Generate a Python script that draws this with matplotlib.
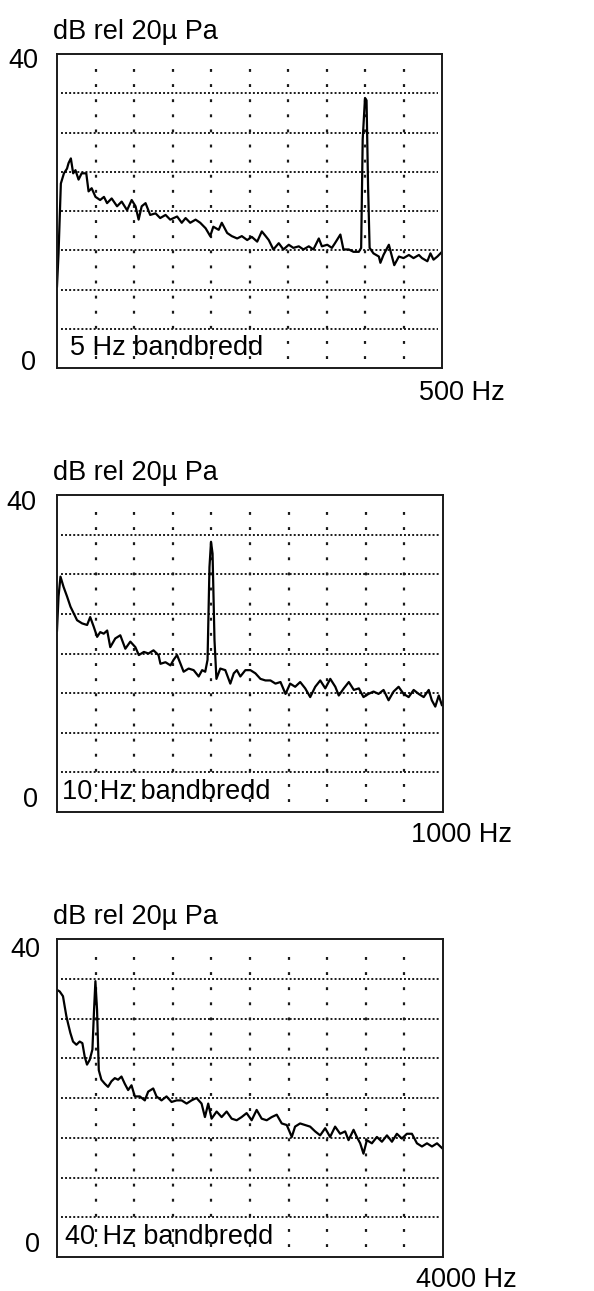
import numpy as np
import matplotlib
matplotlib.use("Agg")
import matplotlib.pyplot as plt

plt.rcParams['font.family'] = ['Liberation Sans', 'DejaVu Sans']

# ----------------------------------------------------------
# Spectrum data
# ----------------------------------------------------------
# 5 Hz bandwidth, 0-500 Hz
freq_5hz = [0, 2, 5, 9, 13, 15, 18, 21, 24, 28, 32, 38, 41, 45, 50, 56, 61, 65, 71, 78,
            84, 91, 97, 102, 106, 110, 115, 121, 128, 134, 141, 147, 156, 162, 167, 173,
            180, 186, 193, 199, 203, 210, 214, 221, 227, 234, 240, 247, 253, 260, 266,
            271, 275, 281, 288, 294, 301, 307, 314, 320, 327, 333, 340, 344, 351, 357,
            361, 368, 372, 379, 385, 392, 395, 397, 400, 402, 404, 406, 411, 418, 420,
            424, 431, 435, 438, 444, 450, 457, 463, 470, 474, 481, 485, 489, 494, 498, 500]
level_5hz = [10.4, 14.6, 23.5, 24.8, 25.4, 26.1, 26.7, 24.8, 25.2, 24.0, 24.8, 24.8, 22.5,
             22.9, 21.8, 21.4, 21.8, 21.0, 21.6, 20.6, 21.2, 20.1, 21.4, 20.6, 18.9, 20.6,
             21.0, 19.5, 19.7, 19.1, 19.5, 18.9, 19.3, 18.5, 19.1, 18.5, 18.9, 18.5, 17.8,
             16.8, 18.0, 17.6, 18.5, 17.2, 16.8, 16.5, 16.8, 16.3, 16.7, 16.1, 17.4, 16.8,
             16.3, 15.1, 15.9, 15.1, 15.7, 15.3, 15.5, 15.1, 15.5, 15.1, 16.5, 15.5, 15.7,
             15.3, 15.9, 17.0, 15.1, 15.1, 14.8, 14.8, 15.3, 29.1, 34.4, 34.1, 23.1, 15.3,
             14.6, 14.2, 13.4, 14.4, 15.7, 14.2, 13.1, 14.2, 14.0, 14.4, 14.0, 14.4, 14.0,
             13.6, 14.6, 13.8, 14.2, 14.6, 14.8]

# 10 Hz bandwidth, 0-1000 Hz
freq_10hz = [0, 4, 9, 17, 26, 35, 43, 52, 65, 78, 86, 95, 104, 112, 121, 130, 138, 151,
             164, 177, 190, 203, 212, 225, 237, 250, 263, 268, 281, 294, 302, 311, 320,
             328, 341, 354, 367, 376, 384, 390, 395, 399, 403, 408, 413, 423, 436, 449,
             458, 466, 475, 488, 501, 514, 527, 540, 553, 566, 579, 592, 604, 617, 630,
             643, 656, 669, 682, 695, 708, 721, 730, 743, 756, 769, 782, 794, 807, 820,
             833, 846, 859, 872, 885, 898, 911, 924, 937, 950, 963, 971, 980, 989, 997]
level_10hz = [22.9, 27.2, 29.7, 28.4, 27.2, 25.9, 25.1, 24.2, 23.8, 23.6, 24.6, 23.4, 22.1,
              22.7, 22.5, 22.9, 20.8, 21.9, 22.3, 20.6, 21.5, 20.8, 19.8, 20.2, 20.0, 20.4,
              19.8, 18.7, 18.9, 18.5, 19.2, 19.8, 18.7, 17.7, 18.1, 17.9, 17.1, 17.9, 17.7,
              19.2, 30.9, 34.1, 32.6, 21.7, 16.8, 18.1, 17.9, 16.2, 17.5, 17.9, 17.1, 17.9,
              17.9, 17.5, 16.8, 16.6, 16.6, 16.2, 16.4, 14.9, 16.2, 15.8, 16.4, 15.6, 14.5,
              15.8, 16.6, 15.6, 16.8, 15.8, 14.7, 15.6, 16.4, 15.4, 15.6, 14.5, 14.9, 15.2,
              14.9, 15.4, 14.1, 15.2, 15.8, 14.9, 14.5, 15.4, 14.9, 14.5, 15.4, 14.1, 13.3,
              14.7, 13.5]

# 40 Hz bandwidth, 0-4000 Hz
freq_40hz = [0, 28, 62, 80, 97, 114, 138, 166, 201, 235, 263, 287, 311, 339, 367, 384,
             398, 415, 433, 460, 495, 529, 564, 599, 633, 668, 702, 737, 772, 806, 858,
             910, 945, 997, 1031, 1083, 1135, 1187, 1239, 1291, 1343, 1394, 1446, 1498,
             1533, 1567, 1602, 1654, 1706, 1758, 1810, 1862, 1913, 1965, 2017, 2069, 2121,
             2173, 2225, 2277, 2329, 2381, 2433, 2467, 2519, 2571, 2623, 2675, 2727, 2779,
             2830, 2882, 2934, 2986, 3021, 3073, 3107, 3142, 3176, 3211, 3263, 3315, 3367,
             3419, 3471, 3522, 3574, 3626, 3678, 3730, 3782, 3834, 3886, 3938, 3990]
level_40hz = [33.6, 33.4, 32.8, 31.5, 30.3, 29.4, 28.2, 27.1, 26.7, 27.1, 26.9, 25.2, 24.2,
              24.8, 26.1, 31.1, 34.7, 31.1, 23.5, 22.3, 21.8, 21.4, 22.1, 22.5, 22.3, 22.7,
              21.8, 21.0, 21.6, 20.2, 20.2, 19.7, 20.8, 21.2, 20.2, 19.7, 20.2, 19.5, 19.7,
              19.7, 19.3, 19.7, 20.0, 19.3, 17.6, 19.3, 17.4, 18.3, 17.6, 18.3, 17.4, 17.2,
              17.6, 18.1, 17.2, 18.5, 17.4, 17.2, 17.6, 17.9, 16.8, 16.6, 15.1, 16.4, 16.8,
              16.6, 16.4, 15.8, 15.3, 16.2, 15.1, 16.4, 15.5, 15.8, 14.7, 16.0, 15.1, 14.3,
              13.0, 14.7, 14.3, 15.1, 14.5, 15.3, 14.5, 15.5, 14.9, 15.5, 15.5, 14.3, 13.9,
              14.3, 13.9, 14.3, 13.7]

freq_max = [500, 1000, 4000]
bandwidth_labels = ["5 Hz bandbredd", "10 Hz bandbredd", "40 Hz bandbredd"]
x_labels = ["500 Hz", "1000 Hz", "4000 Hz"]
y_label = "dB rel 20\u00b5 Pa"
y_max = 40

W, H = 594, 1291
fig = plt.figure(figsize=(W / 100, H / 100), dpi=100)


def px(x, y):
    # pixel position -> figure fraction
    return x / W, 1 - y / H


# axes boxes in pixels: left, top, right, bottom
boxes = [(57, 54, 442, 368), (57, 495, 443, 812), (57, 939, 443, 1257)]
# text anchors in pixels
ylab_pos = [(53, 32), (53, 473), (53, 917)]
top_pos = [(23, 61), (21, 503), (25, 950)]
zero_pos = [(28, 363), (30, 800), (32, 1245)]
xlab_pos = [(505, 393), (512, 835), (517, 1280)]
bw_pos = [(70, 348), (62, 792), (65, 1237)]

series = [(freq_5hz, level_5hz), (freq_10hz, level_10hz), (freq_40hz, level_40hz)]

fs = 19.5
for i in range(3):
    l, t, r, b = boxes[i]
    x0, y1 = px(l, t)
    x1, y0 = px(r, b)
    ax = fig.add_axes([x0, y0, x1 - x0, y1 - y0])
    fmax = freq_max[i]
    ax.set_xlim(0, fmax)
    ax.set_ylim(0, y_max)
    ax.set_xticks([])
    ax.set_yticks([])
    for s in ax.spines.values():
        s.set_linewidth(1.4)
        s.set_color('#1a1a1a')

    # dotted grid like the analyser screen
    for k in range(1, 8):
        ax.axhline(k * y_max / 8, xmin=0.01, xmax=0.99, color='#1a1a1a',
                   lw=1.4, ls=(0, (1, 1.1)))
    for k in range(1, 10):
        ax.axvline(k * fmax / 10, ymin=0.03, ymax=0.97, color='#1a1a1a',
                   lw=1.6, ls=(0, (1.3, 5.5)))

    f, lv = series[i]
    ax.plot(f, lv, color='black', lw=1.6)

    fig.text(*px(*ylab_pos[i]), y_label, fontsize=fs, ha='left', va='center')
    fig.text(*px(*top_pos[i]), "40", fontsize=fs, ha='center', va='center')
    fig.text(*px(*zero_pos[i]), "0", fontsize=fs, ha='center', va='center')
    fig.text(*px(*xlab_pos[i]), x_labels[i], fontsize=fs, ha='right', va='center')
    fig.text(*px(*bw_pos[i]), bandwidth_labels[i], fontsize=fs, ha='left', va='center')

fig.savefig("out.png", dpi=100, facecolor='white')
